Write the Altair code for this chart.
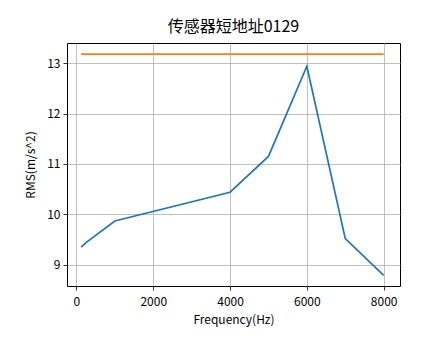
import altair as alt
import pandas as pd

freq = [125, 250, 1000, 4000, 5000, 6000, 7000, 8000]
rms = [9.35, 9.44, 9.87, 10.44, 11.15, 12.94, 9.52, 8.79]
threshold = [13.18] * len(freq)

title = "传感器短地址0129"
x_title = "Frequency(Hz)"
y_title = "RMS(m/s^2)"
x_ticks = [0, 2000, 4000, 6000, 8000]
y_ticks = [9, 10, 11, 12, 13]

df = pd.DataFrame({
    "freq": freq * 2,
    "value": rms + threshold,
    "series": ["rms"] * len(freq) + ["limit"] * len(freq),
})

FONT = "Noto Sans CJK SC"

chart = alt.Chart(df).mark_line(strokeWidth=1.7, clip=True).encode(
    x=alt.X("freq:Q", title=x_title,
            scale=alt.Scale(domain=[-245, 8425], nice=False, zero=False),
            axis=alt.Axis(values=x_ticks, format="d", labelFlush=False)),
    y=alt.Y("value:Q", title=y_title,
            scale=alt.Scale(domain=[8.58, 13.40], nice=False, zero=False),
            axis=alt.Axis(values=y_ticks, format="d")),
    color=alt.Color("series:N",
                    scale=alt.Scale(domain=["rms", "limit"], range=["#1f77b4", "#ff7f0e"]),
                    legend=None),
    detail="series:N",
).properties(
    width=333,
    height=243,
    title=alt.TitleParams(title, font=FONT, fontSize=16, fontWeight="normal",
                          color="black", offset=8),
    autosize=alt.AutoSizeParams(type="none"),
    padding={"left": 59, "top": 35, "right": 36, "bottom": 60},
).configure_view(
    stroke="black", strokeWidth=1
).configure_axis(
    domain=False,
    grid=True,
    gridColor="#b0b0b0",
    gridWidth=0.8,
    tickColor="black",
    tickSize=4,
    tickWidth=0.8,
    labelFont=FONT,
    labelFontSize=12,
    labelColor="black",
    labelPadding=3,
    titleFont=FONT,
    titleFontSize=12,
    titleFontWeight="normal",
    titleColor="black",
).configure_axisX(
    labelPadding=6,
    titlePadding=7,
).configure_axisY(
    titlePadding=9,
)

chart.save("out.html", embed_options={"renderer": "svg", "actions": False})
